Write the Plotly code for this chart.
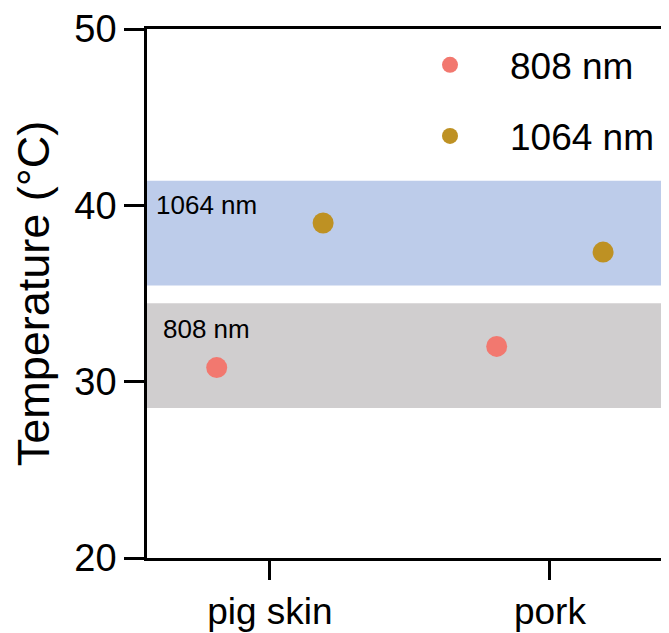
import plotly.graph_objects as go

# ---- data ----
categories = ["pig skin", "pork"]
series_names = ["808 nm", "1064 nm"]
temp_808 = [30.8, 32.0]
temp_1064 = [39.0, 37.35]
band_808 = [28.5, 34.45]    # temperature window for 808 nm
band_1064 = [35.45, 41.4]   # temperature window for 1064 nm
y_ticks = [20, 30, 40, 50]

FONT = "Arial, 'Liberation Sans', Helvetica, sans-serif"
C808 = "#F2786F"
C1064 = "#BE9123"
BAND808 = "#D0CECF"
BAND1064 = "#BDCCEA"

fig = go.Figure()
fig.add_trace(go.Scatter(
    x=categories, y=temp_808, name=series_names[0], mode="markers",
    marker=dict(color=C808, size=21), offsetgroup="a", legendgroup="a"))
fig.add_trace(go.Scatter(
    x=categories, y=temp_1064, name=series_names[1], mode="markers",
    marker=dict(color=C1064, size=21), offsetgroup="b", legendgroup="b"))

for band, col in [(band_808, BAND808), (band_1064, BAND1064)]:
    fig.add_shape(type="rect", xref="x domain", yref="y", x0=0, x1=1,
                  y0=band[0], y1=band[1], fillcolor=col, line_width=0,
                  layer="below")

fig.add_annotation(xref="x domain", yref="y", x=0.0123, y=band_1064[1] - 1.4,
                   text=series_names[1], showarrow=False, xanchor="left",
                   font=dict(size=26, color="black", family=FONT))
fig.add_annotation(xref="x domain", yref="y", x=0.0271, y=band_808[1] - 1.45,
                   text=series_names[0], showarrow=False, xanchor="left",
                   font=dict(size=26, color="black", family=FONT))

fig.update_layout(
    width=669, height=625,
    margin=dict(l=139, r=0, t=21, b=75, autoexpand=False),
    paper_bgcolor="white", plot_bgcolor="white",
    font=dict(family=FONT, color="black", size=38),
    scattermode="group", scattergap=0.24,
    legend=dict(x=0.4585, y=0.99, xanchor="left", yanchor="top",
                bgcolor="rgba(0,0,0,0)", font=dict(size=37),
                itemwidth=110, tracegroupgap=20),
    xaxis=dict(type="category", range=[-0.439, 1.454], showline=True,
               linecolor="black", linewidth=2.5, mirror=True,
               ticks="outside", ticklen=19, tickwidth=2.5, tickcolor="black",
               showgrid=False, zeroline=False, tickfont=dict(size=37)),
    yaxis=dict(range=[20, 50], tickvals=y_ticks, showline=True,
               linecolor="black", linewidth=2.5, ticks="outside",
               ticklen=20, tickwidth=2.5, tickcolor="black",
               showgrid=False, zeroline=False, tickfont=dict(size=38),
               title=dict(text="Temperature (°C)", font=dict(size=45),
                          standoff=20)),
)

fig.write_html("out.html")
